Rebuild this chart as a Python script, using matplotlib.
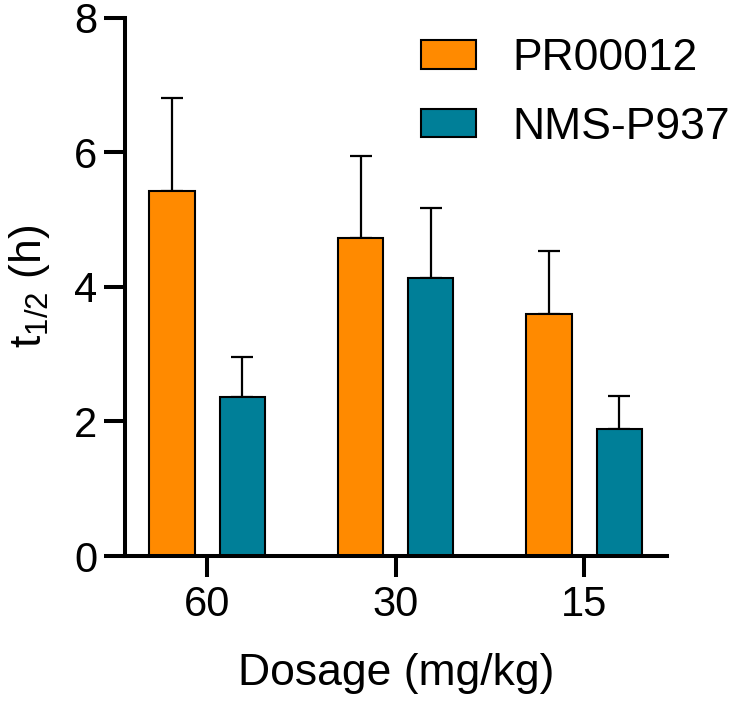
import matplotlib
matplotlib.use("Agg")
import matplotlib.pyplot as plt
import numpy as np

plt.rcParams['font.family'] = ['Liberation Sans', 'DejaVu Sans']
plt.rcParams['mathtext.fontset'] = 'custom'
plt.rcParams['mathtext.rm'] = 'Liberation Sans'

categories = ['60', '30', '15']
series_names = ['PR00012', 'NMS-P937']
pr_mean = [5.42, 4.72, 3.60]
pr_err = [1.39, 1.22, 0.93]
nms_mean = [2.36, 4.13, 1.89]
nms_err = [0.60, 1.04, 0.49]
colors = ['#FF8A00', '#007F98']

fig = plt.figure(figsize=(7.30, 7.01), dpi=100)
ax = fig.add_axes([125/730, 1-556/701, (667-125)/730, (556-17.5)/701])

x = np.arange(len(categories))
w = 0.24
off = 0.186
lw = 2.9
for i, (m, e, c, name) in enumerate([(pr_mean, pr_err, colors[0], series_names[0]),
                                      (nms_mean, nms_err, colors[1], series_names[1])]):
    pos = x + (-off if i == 0 else off)
    ax.bar(pos, m, width=w, color=c, edgecolor='black', linewidth=1.5, label=name, zorder=2)
    ax.errorbar(pos, m, yerr=[np.zeros(len(m)), e], fmt='none', ecolor='black',
                elinewidth=1.6, capsize=8, capthick=1.6, zorder=1)

ax.set_xlim(-0.436, 2.44)
ax.set_ylim(0, 8)
ax.set_yticks([0, 2, 4, 6, 8])
ax.set_xticks(x)
ax.set_xticklabels(categories)
for s in ['top', 'right']:
    ax.spines[s].set_visible(False)
for s in ['left', 'bottom']:
    ax.spines[s].set_linewidth(lw)
ax.tick_params(axis='both', length=15, width=lw, labelsize=30, direction='out')
ax.tick_params(axis='y', pad=5)
ax.tick_params(axis='x', pad=6)

ax.set_xlabel('Dosage (mg/kg)', fontsize=32, labelpad=20)
ax.set_ylabel(r'$\mathregular{t_{1/2}}$ (h)', fontsize=32, labelpad=16)

ax.legend(loc='upper left', bbox_to_anchor=(421/730, 1-38/701), bbox_transform=fig.transFigure,
          frameon=False, fontsize=32, handlelength=1.24, handleheight=0.61,
          handletextpad=0.81, labelspacing=0.62, borderpad=0, borderaxespad=0)

fig.savefig('out.png', dpi=100)
